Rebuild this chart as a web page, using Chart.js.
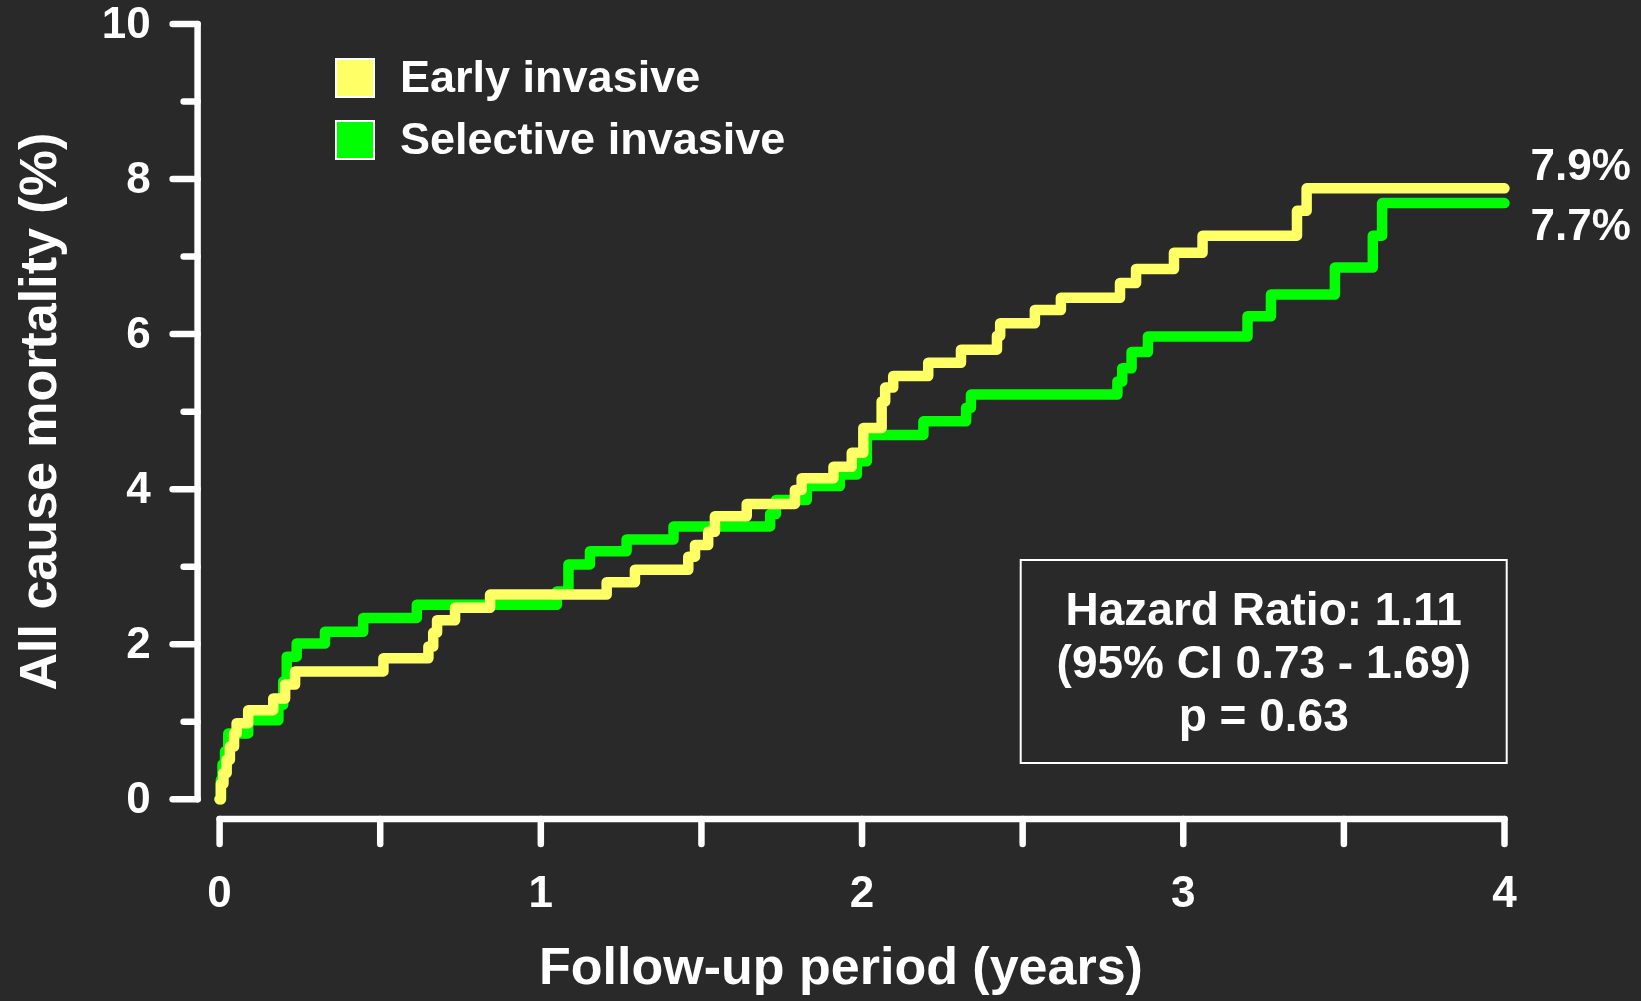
<!DOCTYPE html>
<html><head><meta charset="utf-8">
<script src="https://cdn.jsdelivr.net/npm/chart.js@4/dist/chart.umd.min.js"></script>
<style>html,body{margin:0;padding:0;background:#292929;overflow:hidden}canvas{display:block}</style>
</head><body>
<canvas id="c" width="1641" height="1001"></canvas>
<script>
// ---- data ----
const seriesNames = ['Early invasive', 'Selective invasive'];
const earlyTimes = [0, 0.004, 0.012, 0.022, 0.032, 0.045, 0.053, 0.089, 0.167, 0.204, 0.235, 0.510, 0.650, 0.665, 0.677, 0.733, 0.842, 1.205, 1.293, 1.459, 1.480, 1.521, 1.542, 1.641, 1.791, 1.812, 1.911, 1.968, 2.004, 2.061, 2.072, 2.097, 2.206, 2.308, 2.420, 2.430, 2.538, 2.619, 2.803, 2.853, 2.971, 3.060, 3.354, 3.384, 4.0];
const earlyValues = [0, 0.20, 0.34, 0.51, 0.68, 0.85, 0.98, 1.15, 1.30, 1.48, 1.65, 1.82, 1.97, 2.15, 2.31, 2.47, 2.64, 2.80, 2.96, 3.13, 3.28, 3.45, 3.65, 3.81, 3.99, 4.14, 4.29, 4.47, 4.79, 5.13, 5.31, 5.46, 5.63, 5.80, 5.98, 6.14, 6.31, 6.47, 6.66, 6.84, 7.05, 7.27, 7.59, 7.88, 7.88];
const selectiveTimes = [0, 0.004, 0.009, 0.017, 0.027, 0.089, 0.183, 0.198, 0.209, 0.240, 0.328, 0.447, 0.614, 1.050, 1.086, 1.153, 1.267, 1.413, 1.714, 1.732, 1.828, 1.931, 1.984, 2.015, 2.191, 2.324, 2.339, 2.795, 2.810, 2.839, 2.890, 3.200, 3.273, 3.472, 3.590, 3.619, 4.0];
const selectiveValues = [0, 0.25, 0.45, 0.62, 0.85, 1.02, 1.22, 1.52, 1.84, 2.01, 2.16, 2.34, 2.51, 2.68, 3.03, 3.20, 3.35, 3.52, 3.68, 3.86, 4.04, 4.19, 4.36, 4.70, 4.875, 5.05, 5.22, 5.39, 5.56, 5.77, 5.97, 6.23, 6.51, 6.86, 7.27, 7.69, 7.69];
const xTickLabels = [0, 1, 2, 3, 4];
const yTickLabels = [0, 2, 4, 6, 8, 10];
const endLabels = ['7.9%', '7.7%'];
const statsLines = ['Hazard Ratio: 1.11', '(95% CI 0.73 - 1.69)', 'p = 0.63'];
const xTitle = 'Follow-up period (years)';
const yTitle = 'All cause mortality (%)';

// ---- style ----
const BG = '#292929';
const FG = '#ffffff';
const COLORS = ['#ffff66', '#00ff00'];
const FONT = '"Liberation Sans", Arial, sans-serif';

const toPts = (t, v) => t.map((x, i) => ({x: x, y: v[i]}));

const extras = {
  id: 'extras',
  beforeDraw(chart) {
    const ctx = chart.ctx;
    ctx.save();
    ctx.fillStyle = BG;
    ctx.fillRect(0, 0, chart.width, chart.height);
    ctx.restore();
  },
  afterDraw(chart) {
    const ctx = chart.ctx;
    const xs = chart.scales.x, ys = chart.scales.y;
    ctx.save();
    ctx.strokeStyle = FG;
    ctx.lineCap = 'round';
    // offset y axis
    const ax = xs.getPixelForValue(0) - 22;
    ctx.lineWidth = 6.5;
    ctx.beginPath();
    ctx.moveTo(ax, ys.getPixelForValue(0));
    ctx.lineTo(ax, ys.getPixelForValue(10));
    ctx.stroke();
    ys.ticks.forEach(t => {
      const py = ys.getPixelForValue(t.value);
      const len = yTickLabels.includes(t.value) ? 25 : 14;
      ctx.beginPath();
      ctx.moveTo(ax, py);
      ctx.lineTo(ax - len, py);
      ctx.stroke();
    });
    // offset x axis
    const ay = ys.getPixelForValue(0) + 19.7;
    ctx.beginPath();
    ctx.moveTo(xs.getPixelForValue(0), ay);
    ctx.lineTo(xs.getPixelForValue(4), ay);
    ctx.stroke();
    xs.ticks.forEach(t => {
      const px = xs.getPixelForValue(t.value);
      ctx.beginPath();
      ctx.moveTo(px, ay);
      ctx.lineTo(px, ay + 25);
      ctx.stroke();
    });
    // x title
    ctx.fillStyle = FG;
    ctx.textBaseline = 'middle';
    ctx.textAlign = 'center';
    ctx.font = 'bold 52px ' + FONT;
    ctx.fillText(xTitle, 841, 970);
    // legend
    ctx.lineCap = 'butt';
    ctx.font = 'bold 45px ' + FONT;
    ctx.textAlign = 'left';
    const legendRows = [78, 140];
    chart.data.datasets.forEach((ds, i) => {
      const cy = legendRows[i];
      ctx.fillStyle = ds.borderColor;
      ctx.fillRect(336, cy - 19, 38, 38);
      ctx.lineWidth = 2;
      ctx.strokeStyle = FG;
      ctx.strokeRect(336, cy - 19, 38, 38);
      ctx.fillStyle = FG;
      ctx.fillText(ds.label, 400, cy + 2);
    });
    // end labels
    ctx.font = 'bold 44px ' + FONT;
    const endX = xs.getPixelForValue(4) + 26;
    ctx.fillText(endLabels[0], endX, ys.getPixelForValue(earlyValues[earlyValues.length - 1]) - 21);
    ctx.fillText(endLabels[1], endX, ys.getPixelForValue(selectiveValues[selectiveValues.length - 1]) + 25);
    // stats box
    ctx.lineWidth = 2;
    ctx.strokeStyle = FG;
    ctx.strokeRect(1020.7, 560, 486, 203);
    ctx.textAlign = 'center';
    ctx.font = 'bold 46px ' + FONT;
    statsLines.forEach((s, i) => ctx.fillText(s, 1263.7, 612 + i * 53));
    ctx.restore();
  }
};

new Chart(document.getElementById('c'), {
  type: 'line',
  data: {
    datasets: [
      {label: seriesNames[0], data: toPts(earlyTimes, earlyValues), borderColor: COLORS[0], backgroundColor: COLORS[0]},
      {label: seriesNames[1], data: toPts(selectiveTimes, selectiveValues), borderColor: COLORS[1], backgroundColor: COLORS[1]}
    ]
  },
  options: {
    responsive: false,
    animation: false,
    devicePixelRatio: 1,
    parsing: false,
    datasets: {line: {stepped: true, borderWidth: 10.5, pointRadius: 0, borderCapStyle: 'round', borderJoinStyle: 'round', fill: false, clip: false, tension: 0}},
    layout: {padding: {top: 24, right: 136.5, bottom: 0, left: 0}},
    plugins: {legend: {display: false}, tooltip: {enabled: false}},
    scales: {
      x: {
        type: 'linear', min: 0, max: 4,
        grid: {display: false, drawTicks: false},
        border: {display: false},
        ticks: {stepSize: 0.5, autoSkip: false, maxRotation: 0, padding: 69, color: FG,
          font: {family: FONT, size: 44, weight: 'bold'},
          callback: v => xTickLabels.includes(v) ? String(v) : ''},
        title: {display: false, text: xTitle},
        afterFit: s => { s.height = 201.7; s.paddingLeft = 0; s.paddingRight = 0; }
      },
      y: {
        type: 'linear', min: 0, max: 10,
        grid: {display: false, drawTicks: false},
        border: {display: false},
        ticks: {stepSize: 1, autoSkip: false, padding: 69, labelOffset: 2, color: FG,
          font: {family: FONT, size: 44, weight: 'bold'},
          callback: v => yTickLabels.includes(v) ? String(v) : ''},
        title: {display: true, text: yTitle, color: FG, font: {family: FONT, size: 52, weight: 'bold', lineHeight: 1}, padding: {top: 16, bottom: 0}},
        afterFit: s => { s.width = 219.6; s.paddingTop = 0; s.paddingBottom = 0; }
      }
    }
  },
  plugins: [extras]
});
</script>
</body></html>
